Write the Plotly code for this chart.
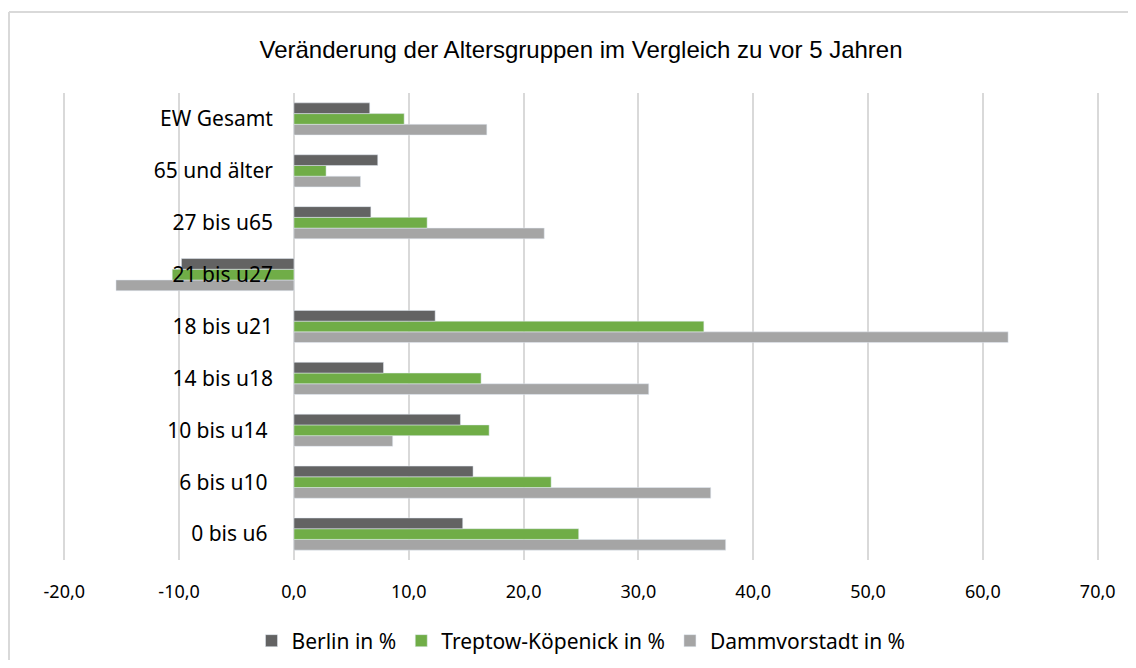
import plotly.graph_objects as go

# categories from bottom to top
kategorien = ["0 bis u6\u00a0", "6 bis u10\u00a0", "10 bis u14\u00a0", "14 bis u18", "18 bis u21",
              "21 bis u27", "27 bis u65", "65 und älter", "EW Gesamt"]

berlin = [14.7, 15.6, 14.5, 7.8, 12.3, -9.8, 6.7, 7.3, 6.6]
treptow = [24.8, 22.4, 17.0, 16.3, 35.7, -10.6, 11.6, 2.8, 9.6]
dammvorstadt = [37.6, 36.3, 8.6, 30.9, 62.2, -15.5, 21.8, 5.8, 16.8]

x_ticks = [-20, -10, 0, 10, 20, 30, 40, 50, 60, 70]
x_tick_labels = ["-20,0", "-10,0", "0,0", "10,0", "20,0", "30,0", "40,0", "50,0", "60,0", "70,0"]

fig = go.Figure()

# plotly places horizontal groups bottom-up, so add in reverse order
fig.add_trace(go.Bar(y=kategorien, x=dammvorstadt, name="Dammvorstadt in %", orientation="h",
                     marker=dict(color="#A5A5A5")))
fig.add_trace(go.Bar(y=kategorien, x=treptow, name="Treptow-Köpenick in %", orientation="h",
                     marker=dict(color="#70AD47")))
fig.add_trace(go.Bar(y=kategorien, x=berlin, name="Berlin in %", orientation="h",
                     marker=dict(color="#636363")))

# small padding so plotly still draws the gridlines at -20 and 70
x_min, x_max = -20.2, 70.2
zero_pos = (0 - x_min) / (x_max - x_min)

# page body has an 8px margin, keep the figure inside the window
W, H = 1120, 652
ml, mr, mt, mb = 54, 28, 85, 100
plot_w = W - ml - mr
plot_h = H - mt - mb

fig.update_layout(
    width=W,
    height=H,
    title=dict(text="Veränderung der Altersgruppen im Vergleich zu vor 5 Jahren",
               x=0.5, xref="paper", y=1 - 42 / H, yanchor="middle",
               font=dict(family="Liberation Sans, Arial", size=24, color="#000000")),
    barmode="group",
    bargap=0.38,
    bargroupgap=0,
    plot_bgcolor="white",
    paper_bgcolor="white",
    font=dict(family="Noto Sans, Open Sans, sans-serif", size=18, color="#000000"),
    margin=dict(l=ml, r=mr, t=mt, b=mb, autoexpand=False),
    legend=dict(orientation="h", x=0.5, xanchor="center", y=-(633 - (mt + plot_h)) / plot_h,
                yanchor="middle", traceorder="reversed", font=dict(size=21), itemwidth=30),
    showlegend=True,
)

fig.update_xaxes(range=[x_min, x_max], tickvals=x_ticks, ticktext=x_tick_labels,
                 showgrid=True, gridcolor="#D9D9D9", gridwidth=2,
                 zeroline=True, zerolinecolor="#D9D9D9", zerolinewidth=2,
                 showline=False, ticks="", ticklabelstandoff=19, tickfont=dict(size=18))

fig.update_yaxes(type="category", anchor="free", position=zero_pos,
                 showgrid=False, showline=False, ticks="", ticklabelstandoff=21,
                 tickfont=dict(size=21))

# outer chart frame (top and left edges are the only visible ones)
frame_left = (1 - ml) / plot_w
frame_top = 1 + (mt - 4) / plot_h
fig.add_shape(type="line", xref="paper", yref="paper", x0=frame_left, x1=1 + mr / plot_w,
              y0=frame_top, y1=frame_top, line=dict(color="#D9D9D9", width=2), layer="below")
fig.add_shape(type="line", xref="paper", yref="paper", x0=frame_left, x1=frame_left,
              y0=frame_top, y1=-mb / plot_h, line=dict(color="#D9D9D9", width=2), layer="below")

fig.write_html("out.html")
